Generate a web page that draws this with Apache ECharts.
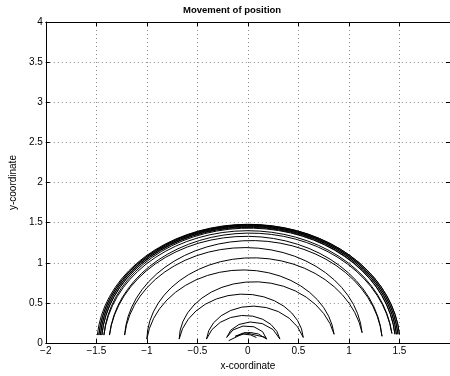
<!DOCTYPE html>
<html>
<head>
<meta charset="utf-8">
<script src="https://cdn.jsdelivr.net/npm/echarts@6/dist/echarts.min.js"></script>
<style>html,body{margin:0;padding:0;background:#fff}#c{width:450px;height:376px}</style>
</head>
<body>
<div id="c"></div>
<script>
// Turning points of the swinging motion (x, y)
var turnX = [-1.49, 1.50, -1.475, 1.485, -1.46, 1.47, -1.445, 1.455, -1.425, 1.425, -1.37, 1.327, -1.22, 1.13, -1.0, 0.853, -0.68, 0.548, -0.41, 0.317, -0.21, 0.186, -0.125, 0.084];
var turnY = [0.10, 0.11, 0.10, 0.11, 0.10, 0.11, 0.10, 0.11, 0.10, 0.12, 0.10, 0.085, 0.10, 0.13, 0.05, 0.11, 0.05, 0.07, 0.05, 0.05, 0.07, 0.05, 0.085, 0.07];
// Height of each swing arc at its top
var arcTop = [1.48, 1.476, 1.47, 1.464, 1.457, 1.45, 1.442, 1.432, 1.40, 1.37, 1.33, 1.277, 1.19, 1.06, 0.912, 0.76, 0.61, 0.458, 0.344, 0.264, 0.215, 0.134, 0.11];
// Small tangled piece near the centre
var tailX = [-0.19, -0.03, 0.18];
var tailY = [0.03, 0.13, 0.07];
var xTicks = [-2, -1.5, -1, -0.5, 0, 0.5, 1, 1.5];
var yTicks = [0, 0.5, 1, 1.5, 2, 2.5, 3, 3.5, 4];

var arcs = [];
for (var i = 0; i < arcTop.length; i++) {
  arcs.push([turnX[i], turnY[i], turnX[i + 1], turnY[i + 1], arcTop[i]]);
}
var tail = tailX.map(function (x, k) { return [x, tailY[k]]; });

function fmt(v) { return String(v).replace('-', '\u2212'); }

var chart = echarts.init(document.getElementById('c'), null, {renderer: 'canvas'});
var FONT = 'Liberation Sans, Arial, Helvetica, sans-serif';
var grid = {left: 35, top: 22, width: 416, height: 329};
var dotted = {show: true, lineStyle: {color: '#8a8a8a', width: 1, type: [1, 3]}};
var axLine = {show: true, onZero: false, lineStyle: {color: '#000', width: 1}};
var axTick = {show: true, inside: true, length: 4, lineStyle: {color: '#000'}};

chart.setOption({
  animation: false,
  backgroundColor: '#fff',
  grid: grid,
  graphic: [{
    type: 'text', left: 243 - 60, top: 5,
    style: {text: 'Movement of position', font: 'bold 9.5px ' + FONT, fill: '#000', width: 120, align: 'center'}
  }],
  xAxis: [{
    type: 'value', min: -2, max: 2, interval: 0.5,
    name: 'x-coordinate', nameLocation: 'middle', nameGap: 17,
    nameTextStyle: {fontFamily: FONT, fontSize: 10, color: '#000'},
    axisLine: axLine, axisTick: axTick,
    axisLabel: {show: true, showMaxLabel: false, margin: 3, fontFamily: FONT, fontSize: 10, color: '#000',
      formatter: function (v) { return xTicks.indexOf(v) >= 0 ? fmt(v) : ''; }},
    splitLine: dotted
  }, {
    type: 'value', min: -2, max: 2, interval: 0.5, position: 'top',
    axisLine: axLine, axisTick: axTick,
    axisLabel: {show: false}, splitLine: {show: false}
  }],
  yAxis: [{
    type: 'value', min: 0, max: 4, interval: 0.5,
    name: 'y-coordinate', nameLocation: 'middle', nameGap: 22, nameRotate: 90,
    nameTextStyle: {fontFamily: FONT, fontSize: 10, color: '#000'},
    axisLine: axLine, axisTick: axTick,
    axisLabel: {show: true, margin: 3, fontFamily: FONT, fontSize: 10, color: '#000',
      formatter: function (v) { return yTicks.indexOf(v) >= 0 ? fmt(v) : ''; }},
    splitLine: dotted
  }, {
    type: 'value', min: 0, max: 4, interval: 0.5, position: 'right',
    axisLine: axLine, axisTick: axTick,
    axisLabel: {show: false}, splitLine: {show: false}
  }],
  series: [{
    type: 'custom',
    xAxisIndex: 0, yAxisIndex: 0,
    data: arcs,
    encode: {x: [0, 2], y: [1, 3, 4]},
    renderItem: function (params, api) {
      var xa = api.value(0), ya = api.value(1), xb = api.value(2), yb = api.value(3), top = api.value(4);
      var ra = Math.sqrt(xa * xa + ya * ya), rb = Math.sqrt(xb * xb + yb * yb);
      var ta = Math.atan2(ya, xa), tb = Math.atan2(yb, xb);
      var bump = top - (ra + rb) / 2;
      var hw = Math.abs(xb - xa) / 2;
      var n = Math.max(3, Math.round(hw * 24));
      var pts = [];
      for (var k = 0; k <= n; k++) {
        var f = k / n;
        var t = ta + (tb - ta) * f;
        var r = ra * (1 - f) + rb * f + bump * 4 * f * (1 - f);
        pts.push(api.coord([r * Math.cos(t), r * Math.sin(t)]));
      }
      return {type: 'polyline', shape: {points: pts}, style: {stroke: '#000', lineWidth: 1, fill: null}, silent: true};
    }
  }, {
    type: 'line', xAxisIndex: 0, yAxisIndex: 0, data: tail, showSymbol: false, symbol: 'none',
    lineStyle: {color: '#000', width: 1}, silent: true
  }]
});
</script>
</body>
</html>
